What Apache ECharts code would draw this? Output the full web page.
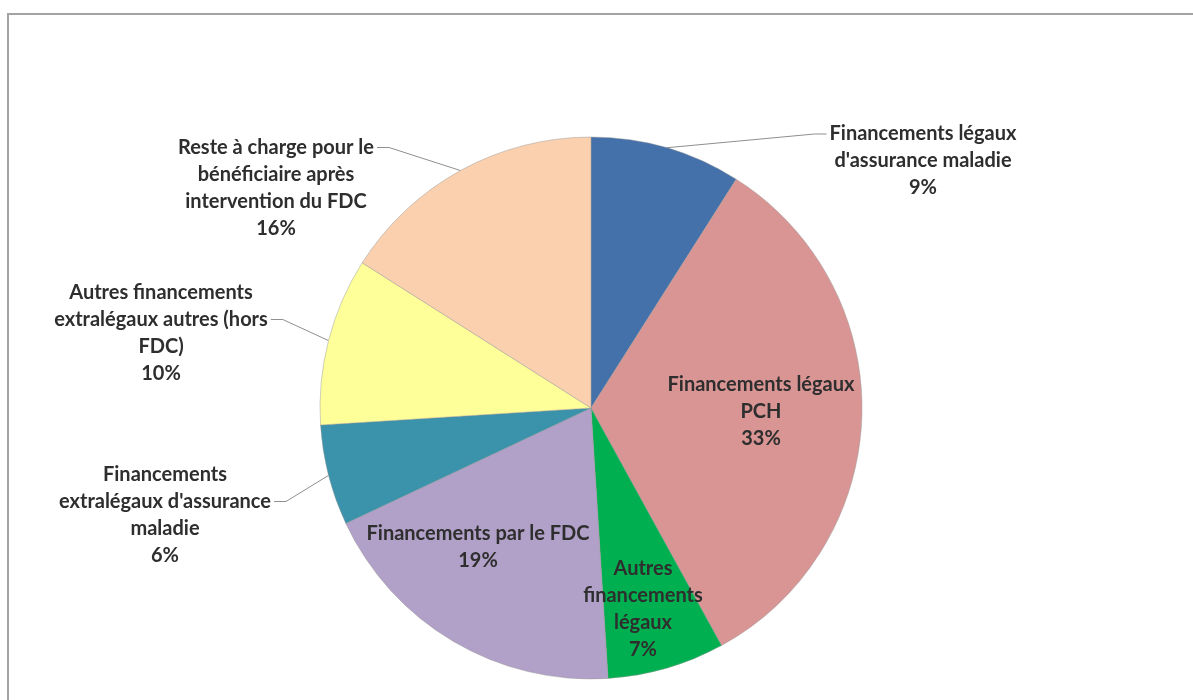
<!DOCTYPE html>
<html>
<head>
<meta charset="utf-8">
<script src="https://cdn.jsdelivr.net/npm/echarts@6/dist/echarts.min.js"></script>
<style>
html,body{margin:0;padding:0;background:#ffffff;}
#chart{width:1193px;height:700px;}
</style>
</head>
<body>
<div id="chart"></div>
<script>
// ---- data ----
const categories = [
  "Financements légaux\nd'assurance maladie",
  "Financements légaux\nPCH",
  "Autres\nfinancements\nlégaux",
  "Financements par le FDC",
  "Financements\nextralégaux d'assurance\nmaladie",
  "Autres financements\nextralégaux autres (hors\nFDC)",
  "Reste à charge pour le\nbénéficiaire après\nintervention du FDC"
];
const values = [9, 33, 7, 19, 6, 10, 16];
const sliceColors = ['#4471a9', '#d99594', '#00b050', '#b1a0c7', '#3a93ab', '#ffff99', '#fad0ae'];
const insideLabel = [false, true, true, true, false, false, false];

// ---- label placement (style) ----
const LINE_H = 27;
const LABEL_LAYOUT = [
  { x: 923, y: 161, side: 'left',  line: 0 },
  { x: 761, y: 412 },
  { x: 643, y: 609 },
  { x: 478, y: 547 },
  { x: 165, y: 515, side: 'right', line: 1 },
  { x: 161, y: 333, side: 'right', line: 1 },
  { x: 276, y: 188, side: 'right', line: 0 }
];

const chart = echarts.init(document.getElementById('chart'), null, { renderer: 'canvas' });

const seriesData = categories.map((name, i) => ({
  name: name,
  value: values[i],
  itemStyle: { color: sliceColors[i] },
  label: { position: insideLabel[i] ? 'inside' : 'outside' },
  labelLine: { show: !insideLabel[i] }
}));

chart.setOption({
  animation: false,
  backgroundColor: '#ffffff',
  graphic: [{
    type: 'rect',
    shape: { x: 8, y: 14, width: 1400, height: 900 },
    style: { fill: 'none', stroke: '#a3a3a3', lineWidth: 2 },
    silent: true
  }],
  series: [{
    type: 'pie',
    center: [591, 408],
    radius: 271,
    startAngle: 90,
    clockwise: true,
    avoidLabelOverlap: false,
    data: seriesData,
    itemStyle: { borderColor: 'rgba(150,150,150,0.45)', borderWidth: 1 },
    label: {
      show: true,
      formatter: '{b}\n{c}%',
      fontFamily: 'Lato',
      fontWeight: 'bold',
      fontSize: 20,
      lineHeight: LINE_H,
      color: '#2e2e2e',
      align: 'center'
    },
    labelLine: {
      show: true,
      lineStyle: { color: '#8f8f8f', width: 1 }
    },
    labelLayout: function (params) {
      const s = LABEL_LAYOUT[params.dataIndex];
      const r = params.labelRect;
      const out = { x: s.x, y: s.y, align: 'center', verticalAlign: 'middle' };
      if (s.side && params.labelLinePoints) {
        const p0 = params.labelLinePoints[0];
        const ax = s.side === 'left' ? s.x - r.width / 2 - 3 : s.x + r.width / 2 + 3;
        const ay = s.y - r.height / 2 + (s.line + 0.5) * LINE_H;
        const ex = s.side === 'left' ? ax - 12 : ax + 12;
        out.labelLinePoints = [p0, [ex, ay], [ax, ay]];
      }
      return out;
    },
    emphasis: { disabled: true }
  }]
});
</script>
</body>
</html>
